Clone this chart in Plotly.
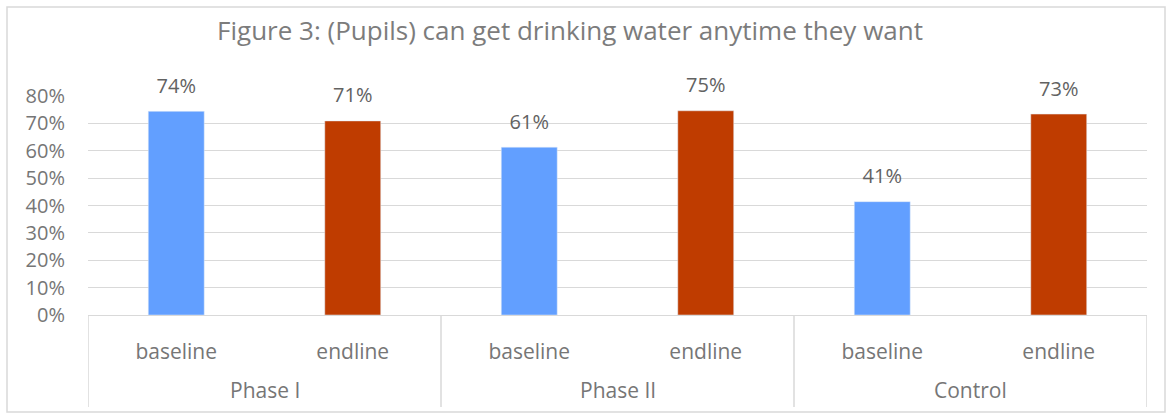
import plotly.graph_objects as go

# values
groups = ["Phase I", "Phase I", "Phase II", "Phase II", "Control", "Control"]
rounds = ["baseline", "endline", "baseline", "endline", "baseline", "endline"]
share = [0.744, 0.709, 0.613, 0.746, 0.414, 0.734]
colors = ["#629FFF", "#BF3C00", "#629FFF", "#BF3C00", "#629FFF", "#BF3C00"]

font = "Open Sans, Noto Sans, sans-serif"
gray = "#767676"
line_gray = "#d9d9d9"

pos = list(range(len(share)))

fig = go.Figure()
fig.add_trace(go.Bar(x=pos, y=share, marker_color=colors,
                     width=0.317, showlegend=False, hoverinfo="skip"))
# value labels sit a little above the bars
fig.add_trace(go.Scatter(x=pos, y=share, mode="markers+text",
                         text=[f"{v:.0%}" for v in share], textposition="top center",
                         marker=dict(size=20, opacity=0),
                         textfont=dict(family=font, size=20, color="#626262"),
                         cliponaxis=False, showlegend=False, hoverinfo="skip"))

fig.update_layout(
    width=1172, height=419,
    margin=dict(l=88, r=25, t=96, b=104),
    paper_bgcolor="white", plot_bgcolor="white",
    title=dict(text="Figure 3: (Pupils) can get drinking water anytime they want",
               xref="paper", x=482 / 1059, xanchor="center", y=1 - 31 / 419, yanchor="middle",
               font=dict(family=font, size=26, color="#7c7c7c")),
    font=dict(family=font, size=20, color=gray),
)
fig.update_yaxes(range=[0, 0.8], dtick=0.1, tickformat=".0%", automargin=False,
                 showgrid=True, gridcolor=line_gray, gridwidth=1,
                 zeroline=False, showline=False, ticks="", ticklabelstandoff=22)
fig.update_xaxes(range=[-0.5, len(share) - 0.5], tickvals=pos, ticktext=rounds,
                 automargin=False, showgrid=False, zeroline=False,
                 showline=True, linecolor=line_gray, ticks="",
                 ticklabelstandoff=18, tickfont=dict(family=font, size=21, color=gray))

# group labels and divider lines under the category axis
names = list(dict.fromkeys(groups))
for g in names:
    idx = [i for i, v in enumerate(groups) if v == g]
    fig.add_annotation(x=(idx[0] + idx[-1]) / 2, y=-75 / 219, xref="x", yref="paper",
                       text=g, showarrow=False, yanchor="middle",
                       font=dict(family=font, size=21, color=gray))
    fig.add_shape(type="line", xref="x", yref="paper", x0=idx[0] - 0.5, x1=idx[0] - 0.5,
                  y0=0, y1=-92 / 219, line=dict(color=line_gray, width=1.5))
fig.add_shape(type="line", xref="x", yref="paper", x0=len(share) - 0.5, x1=len(share) - 0.5,
              y0=0, y1=-92 / 219, line=dict(color=line_gray, width=1.5))

# outer chart border
fig.add_shape(type="rect", xref="paper", yref="paper",
              x0=-81 / 1059, x1=1077 / 1059, y0=-97 / 219, y1=308 / 219,
              line=dict(color=line_gray, width=1.5))

fig.write_html("out.html", config={"displayModeBar": False},
               post_script="document.body.style.margin='0';")
